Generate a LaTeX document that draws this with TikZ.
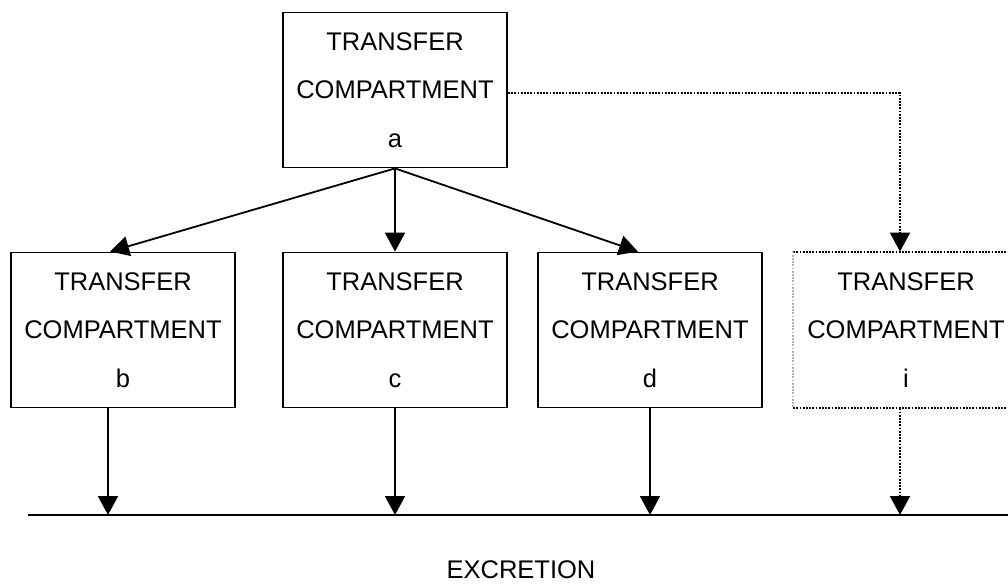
\documentclass[tikz,border=0pt]{standalone}
\usepackage{fontspec}
\setmainfont{Liberation Sans}
\usetikzlibrary{arrows.meta, positioning}

\begin{document}
\begin{tikzpicture}[x=1pt,y=-1pt,
  box/.style={draw, line width=1.8pt, minimum width=224pt, minimum height=155pt,
    align=center, font=\fontsize{25.5}{48.5}\selectfont, inner sep=0pt},
  ghostbox/.style={box, draw=none},
  flow/.style={line width=1.8pt, -{Triangle[width=20pt,length=19pt]}},
  dotline/.style={line width=2pt, dash pattern=on 1.8pt off 1.4pt},
  dotflow/.style={flow, line width=2pt, dash pattern=on 1.8pt off 1.4pt}]
\useasboundingbox (0,0) rectangle (1008,584);
% compartments
\node (a) at (395,90) [box] {TRANSFER\\COMPARTMENT\\a};
\node (b) at (123,330) [box] {TRANSFER\\COMPARTMENT\\b};
\node (c) at (395,330) [box] {TRANSFER\\COMPARTMENT\\c};
\node (d) at (650,330) [box] {TRANSFER\\COMPARTMENT\\d};
\node (i) at (906,330) [ghostbox] {TRANSFER\\COMPARTMENT\\i};
\draw [dotline] (i.north west) -- (i.north east);
\draw [dotline] (i.south west) -- (i.south east);
\draw [dotline, black!30] (i.north west) -- (i.south west);
\draw [dotline, black!30] (i.north east) -- (i.south east);
% excretion
\coordinate (exl) at (28,515);
\coordinate (exr) at (1008,515);
\draw [line width=1.8pt] (exl) -- (exr);
\node (ex) at (521,570) [font=\fontsize{25.5}{30}\selectfont, inner sep=0pt] {EXCRETION};
% transfer arrows
\draw [flow] (a.south) -- ([xshift=-13pt]b.north);
\draw [flow] (a.south) -- (c.north);
\draw [flow] (a.south) -- ([xshift=-12pt]d.north);
\draw [dotflow] (a.east |- 0,93) -| ([xshift=-6pt]i.north);
% excretion arrows
\draw [flow] ([xshift=-15pt]b.south) -- ([xshift=-15pt]b.south |- exl);
\draw [flow] (c.south) -- (c.south |- exl);
\draw [flow] (d.south) -- (d.south |- exl);
\draw [dotflow] ([xshift=-6pt]i.south) -- ([xshift=-6pt]i.south |- exl);
\end{tikzpicture}
\end{document}
